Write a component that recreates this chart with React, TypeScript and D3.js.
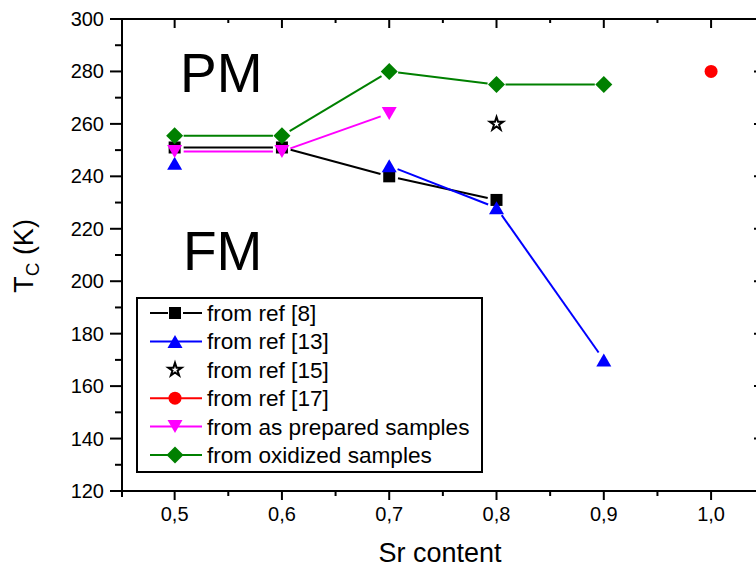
import React from "react";
import * as d3 from "d3";

const W = 756;
const H = 570;

const xValues = [0.5, 0.6, 0.7, 0.8, 0.9, 1.0];
const ref8 = [251, 251, 240, 231, null, null];
const ref13 = [245, null, 244, 228, 170, null];
const ref15 = [null, null, null, 260, null, null];
const ref17 = [null, null, null, null, null, 280];
const asPrepared = [249.5, 249.5, 264, null, null, null];
const oxidized = [255.5, 255.5, 280, 275, 275, null];

const xTickLabels = ["0,5", "0,6", "0,7", "0,8", "0,9", "1,0"];
const yTickValues = [120, 140, 160, 180, 200, 220, 240, 260, 280, 300];

const legendLabels = [
  "from ref [8]",
  "from ref [13]",
  "from ref [15]",
  "from ref [17]",
  "from as prepared samples",
  "from oxidized samples",
];

type Shape = "square" | "triUp" | "star" | "circle" | "triDown" | "diamond";

const seriesList: { values: (number | null)[]; color: string; shape: Shape; line: boolean; label: string }[] = [
  { values: ref8, color: "#000000", shape: "square", line: true, label: legendLabels[0] },
  { values: ref13, color: "#0000FF", shape: "triUp", line: true, label: legendLabels[1] },
  { values: ref15, color: "#000000", shape: "star", line: false, label: legendLabels[2] },
  { values: ref17, color: "#FF0000", shape: "circle", line: true, label: legendLabels[3] },
  { values: asPrepared, color: "#FF00FF", shape: "triDown", line: true, label: legendLabels[4] },
  { values: oxidized, color: "#008000", shape: "diamond", line: true, label: legendLabels[5] },
];

const FONT = "'Liberation Sans', Arial, Helvetica, sans-serif";

function markerPath(shape: Shape): string {
  switch (shape) {
    case "square":
      return "M-6,-6H6V6H-6Z";
    case "triUp":
      return "M0,-6.5L7.5,6.5L-7.5,6.5Z";
    case "triDown":
      return "M0,6.5L7.5,-6.5L-7.5,-6.5Z";
    case "diamond":
      return "M0,-8.5L8.5,0L0,8.5L-8.5,0Z";
    case "circle":
      return "M6.5,0A6.5,6.5,0,1,1,-6.5,0A6.5,6.5,0,1,1,6.5,0Z";
    case "star":
      return d3.symbol(d3.symbolStar, 55)() || "";
  }
}

function Marker({ shape, color, x, y }: { shape: Shape; color: string; x: number; y: number }) {
  if (shape === "star") {
    return (
      <path d={markerPath(shape)} transform={`translate(${x},${y})`} fill="#fff" stroke={color} strokeWidth={2} strokeLinejoin="miter" />
    );
  }
  return <path d={markerPath(shape)} transform={`translate(${x},${y})`} fill={color} />;
}

export default function App() {
  const x = d3.scaleLinear().domain([0.45, 1.04]).range([121, 754]);
  const y = d3.scaleLinear().domain([120, 300]).range([491, 19]);

  const left = 122;
  const top = 19;
  const bottom = 491;
  const rightAxis = 764;

  const yMinor = d3.range(130, 300, 20);
  const xMinor = [0.55, 0.65, 0.75, 0.85, 0.95];
  const gap = 9;

  const segments: JSX.Element[] = [];
  seriesList.forEach((s, si) => {
    if (!s.line) return;
    for (let i = 0; i < s.values.length - 1; i++) {
      const a = s.values[i];
      const b = s.values[i + 1];
      if (a == null || b == null) continue;
      const x1 = x(xValues[i]);
      const y1 = y(a);
      const x2 = x(xValues[i + 1]);
      const y2 = y(b);
      const len = Math.hypot(x2 - x1, y2 - y1);
      const ux = (x2 - x1) / len;
      const uy = (y2 - y1) / len;
      segments.push(
        <line
          key={`seg-${si}-${i}`}
          x1={x1 + ux * gap}
          y1={y1 + uy * gap}
          x2={x2 - ux * gap}
          y2={y2 - uy * gap}
          stroke={s.color}
          strokeWidth={2}
        />
      );
    }
  });

  const legX = 137;
  const legY = 298;
  const legW = 345;
  const legH = 174;
  const rowY0 = 313;
  const rowStep = 28.4;

  return (
    <svg
      width={W}
      height={H}
      style={{ position: "absolute", left: 0, top: 0, background: "#fff" }}
      fontFamily={FONT}
    >
      <rect x={0} y={0} width={W} height={H} fill="#fff" />

      {/* data lines */}
      {seriesList.map((s, si) => (
        <g key={`s-${si}`}>
          {segments.filter((e) => String(e.key).startsWith(`seg-${si}-`))}
          {s.values.map((v, i) =>
            v == null ? null : <Marker key={i} shape={s.shape} color={s.color} x={x(xValues[i])} y={y(v)} />
          )}
        </g>
      ))}

      {/* frame */}
      <g stroke="#000" strokeWidth={2} fill="none">
        <line x1={left} y1={top} x2={left} y2={bottom + 6} />
        <line x1={left - 1} y1={bottom} x2={W + 10} y2={bottom} />
        <line x1={left - 1} y1={top} x2={W + 10} y2={top} />
        <line x1={rightAxis} y1={top} x2={rightAxis} y2={bottom} />
      </g>

      {/* ticks */}
      <g stroke="#000" strokeWidth={2}>
        {yTickValues.map((v) => (
          <line key={`ly${v}`} x1={left - 12} x2={left} y1={y(v)} y2={y(v)} />
        ))}
        {yMinor.map((v) => (
          <line key={`lym${v}`} x1={left - 7} x2={left} y1={y(v)} y2={y(v)} />
        ))}
        {yTickValues.map((v) => (
          <line key={`ry${v}`} x1={rightAxis - 10} x2={rightAxis} y1={y(v)} y2={y(v)} />
        ))}
        {xValues.map((v) => (
          <line key={`bx${v}`} x1={x(v)} x2={x(v)} y1={bottom} y2={bottom + 9} />
        ))}
        {xMinor.map((v) => (
          <line key={`bxm${v}`} x1={x(v)} x2={x(v)} y1={bottom} y2={bottom + 5} />
        ))}
        {xValues.map((v) => (
          <line key={`tx${v}`} x1={x(v)} x2={x(v)} y1={top} y2={top + 9} />
        ))}
        {xMinor.map((v) => (
          <line key={`txm${v}`} x1={x(v)} x2={x(v)} y1={top} y2={top + 4} />
        ))}
      </g>

      {/* tick labels */}
      <g fontSize={20} fill="#000">
        {yTickValues.map((v) => (
          <text key={`yl${v}`} x={104} y={y(v) + 7} textAnchor="end">
            {v}
          </text>
        ))}
        {xValues.map((v, i) => (
          <text key={`xl${v}`} x={x(v)} y={521} textAnchor="middle">
            {xTickLabels[i]}
          </text>
        ))}
      </g>

      {/* axis titles */}
      <text x={440} y={562} textAnchor="middle" fontSize={27} fill="#000">
        Sr content
      </text>
      <text transform="translate(33,256) rotate(-90)" textAnchor="middle" fontSize={27} fill="#000">
        T<tspan fontSize={19} dy={6}>C</tspan>
        <tspan dy={-6}> (K)</tspan>
      </text>

      {/* region labels */}
      <text x={180} y={92} fontSize={55} fill="#000">
        PM
      </text>
      <text x={183} y={270} fontSize={55} fill="#000">
        FM
      </text>

      {/* legend */}
      <rect x={legX} y={legY} width={legW} height={legH} fill="#fff" stroke="#000" strokeWidth={2} />
      {seriesList.map((s, i) => {
        const ry = rowY0 + i * rowStep;
        return (
          <g key={`leg${i}`}>
            {s.line && (
              <>
                <line x1={150} x2={s.shape === "square" ? 168 : 202} y1={ry} y2={ry} stroke={s.color} strokeWidth={2} />
                {s.shape === "square" && <line x1={183} x2={202} y1={ry} y2={ry} stroke={s.color} strokeWidth={2} />}
              </>
            )}
            <Marker shape={s.shape} color={s.color} x={175} y={ry} />
            <text x={207} y={ry + 8} fontSize={22.6} fill="#000">
              {s.label}
            </text>
          </g>
        );
      })}
    </svg>
  );
}
